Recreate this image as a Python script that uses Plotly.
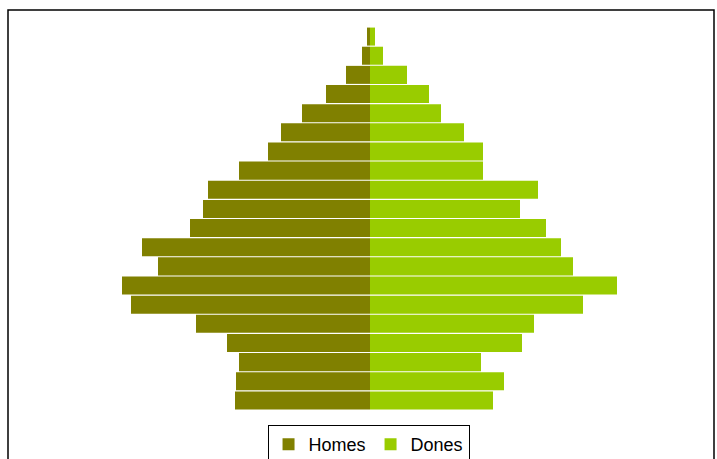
import plotly.graph_objects as go

ages = ["0-4", "5-9", "10-14", "15-19", "20-24", "25-29", "30-34", "35-39", "40-44", "45-49",
        "50-54", "55-59", "60-64", "65-69", "70-74", "75-79", "80-84", "85-89", "90-94", "95+"]
# values listed bottom (youngest) to top (oldest)
homes = [135, 134, 131, 143, 174, 239, 248, 212, 228, 180,
         167, 162, 131, 102, 89, 68, 44, 24, 8, 3]
dones = [123, 134, 111, 152, 164, 213, 247, 203, 191, 176,
         150, 168, 113, 113, 94, 71, 59, 37, 13, 5]

fig = go.Figure()
fig.add_trace(go.Bar(y=ages, x=[-v for v in homes], orientation="h", name="Homes",
                     marker=dict(color="#808000", line=dict(width=0))))
fig.add_trace(go.Bar(y=ages, x=dones, orientation="h", name="Dones",
                     marker=dict(color="#99CC00", line=dict(width=0))))

H0, H1 = 27, 410
def py(v):
    return (H1 - v) / (H1 - H0)

fig.update_layout(
    width=717, height=459,
    margin=dict(l=0, r=0, t=H0, b=459 - H1, autoexpand=False),
    barmode="relative", bargap=0.06,
    paper_bgcolor="white", plot_bgcolor="white",
    font=dict(family="Liberation Sans, Arial, sans-serif", size=18, color="black"),
    xaxis=dict(range=[-370, 347], showticklabels=False, showgrid=False, zeroline=False, fixedrange=True),
    yaxis=dict(range=[-0.5, 19.5], showticklabels=False, showgrid=False, zeroline=False),
    showlegend=True,
    legend=dict(orientation="h", x=0.514, xanchor="center", y=py(425), yanchor="top",
                bordercolor="black", borderwidth=1, font=dict(size=18),
                itemwidth=30, tracegroupgap=0),
    shapes=[dict(type="rect", xref="paper", yref="paper",
                 x0=8 / 717, x1=714 / 717, y0=py(475), y1=py(10),
                 line=dict(color="black", width=1.5), fillcolor="rgba(0,0,0,0)", layer="above")],
)

fig.write_html("out.html", config={"displayModeBar": False},
               post_script="document.body.style.margin='0';document.body.style.overflow='hidden';")
